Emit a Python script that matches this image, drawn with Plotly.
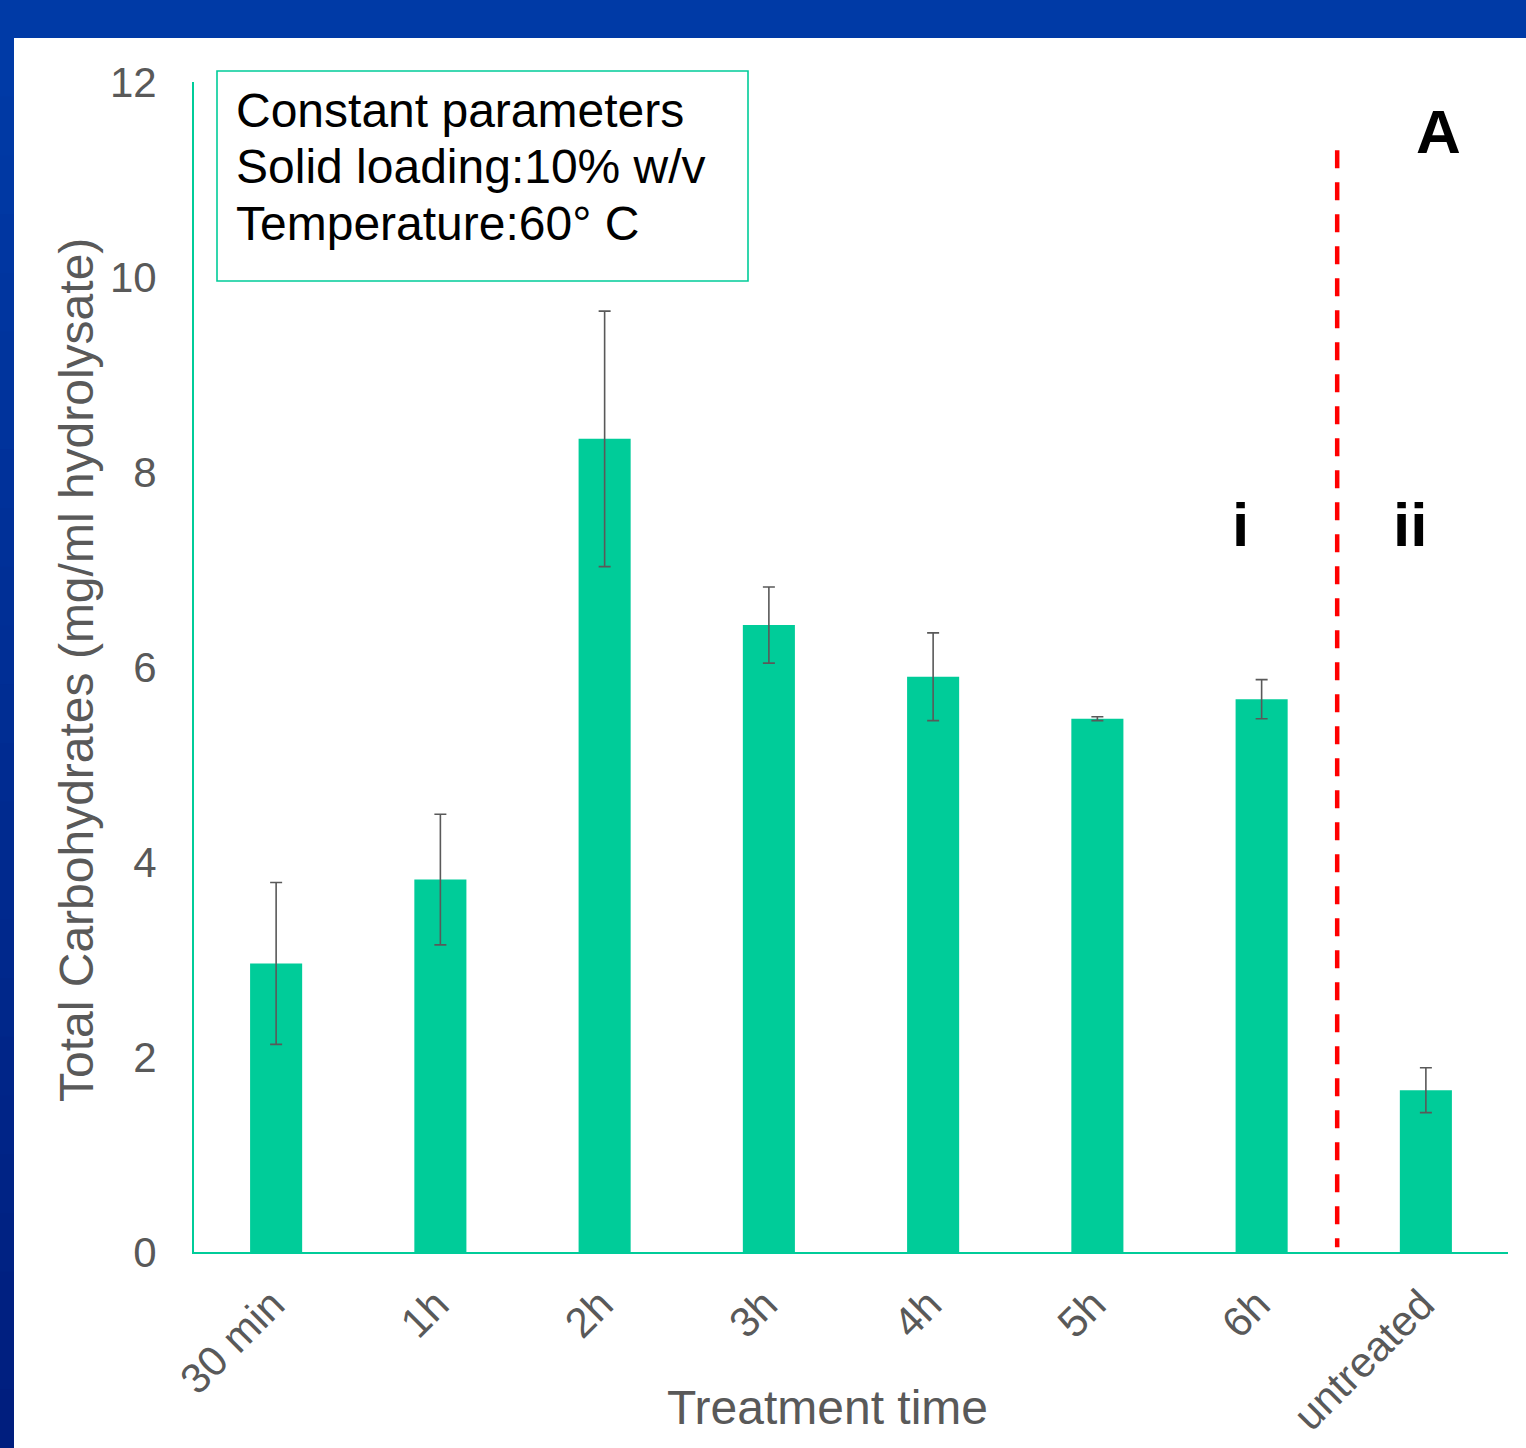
import plotly.graph_objects as go

categories = ["30 min", "1h", "2h", "3h", "4h", "5h", "6h", "untreated"]
carbs = [2.96, 3.82, 8.34, 6.43, 5.90, 5.47, 5.67, 1.66]
carbs_err = [0.83, 0.67, 1.31, 0.39, 0.45, 0.02, 0.20, 0.23]
yticks = [0, 2, 4, 6, 8, 10, 12]

W, H = 1526, 1448
L, R, T, B = 194, 1508, 82, 1252
FONT = "Liberation Sans, Arial, sans-serif"
TEAL = "#00CC99"
GREY = "#595959"


def px(x):
    return (x - L) / (R - L)


def py(y):
    return (B - y) / (B - T)


fig = go.Figure()
fig.add_trace(go.Bar(
    x=categories, y=carbs,
    marker=dict(color=TEAL, line=dict(width=0)),
    error_y=dict(type="data", array=carbs_err, visible=True,
                 color=GREY, thickness=1.6, width=6),
    showlegend=False,
))

shapes = []
# white canvas over the blue frame
shapes.append(dict(type="rect", xref="paper", yref="paper",
                   x0=px(14), x1=px(W + 5), y0=py(38), y1=py(H + 5),
                   fillcolor="white", line=dict(width=0), layer="below"))
# left strip gradient
n = 24
c0 = (0, 58, 166)
c1 = (0, 30, 126)
for i in range(n):
    t = i / (n - 1)
    col = tuple(round(c0[k] + (c1[k] - c0[k]) * t) for k in range(3))
    y0 = 38 + (H - 38) * i / n
    y1 = 38 + (H - 38) * (i + 1) / n + 1
    shapes.append(dict(type="rect", xref="paper", yref="paper",
                       x0=px(-5), x1=px(14), y0=py(y0), y1=py(y1),
                       fillcolor="rgb(%d,%d,%d)" % col, line=dict(width=0), layer="below"))
# info box
shapes.append(dict(type="rect", xref="paper", yref="paper",
                   x0=px(217), x1=px(748), y0=py(71), y1=py(281),
                   fillcolor="white", line=dict(color=TEAL, width=1.6), layer="above"))
# separator dashed line
shapes.append(dict(type="line", xref="x", yref="y",
                   x0=6.46, x1=6.46, y0=11.3, y1=0.05,
                   line=dict(color="#FF0000", width=4.5, dash="18px,14px"), layer="above"))

annotations = []
box_lines = ["Constant parameters", "Solid loading:10% w/v", "Temperature:60° C"]
baselines = [127, 183, 240]
for txt, bl in zip(box_lines, baselines):
    annotations.append(dict(text=txt, xref="paper", yref="paper",
                            x=px(234), y=py(bl + 12), xanchor="left", yanchor="bottom",
                            showarrow=False, font=dict(family=FONT, size=48, color="black")))
annotations.append(dict(text="<b>A</b>", xref="paper", yref="paper",
                        x=px(1438), y=py(132), xanchor="center", yanchor="middle",
                        showarrow=False, font=dict(family=FONT, size=62, color="black")))
annotations.append(dict(text="<b>i</b>", xref="paper", yref="paper",
                        x=px(1240), y=py(524), xanchor="center", yanchor="middle",
                        showarrow=False, font=dict(family=FONT, size=62, color="black")))
annotations.append(dict(text="<b>ii</b>", xref="paper", yref="paper",
                        x=px(1410), y=py(524), xanchor="center", yanchor="middle",
                        showarrow=False, font=dict(family=FONT, size=62, color="black")))
annotations.append(dict(text="Treatment time", xref="paper", yref="paper",
                        x=px(827), y=py(1407), xanchor="center", yanchor="middle",
                        showarrow=False, font=dict(family=FONT, size=48, color=GREY)))
annotations.append(dict(text="Total Carbohydrates (mg/ml hydrolysate)", xref="paper", yref="paper",
                        x=px(76), y=py(670), xanchor="center", yanchor="middle", textangle=-90,
                        showarrow=False, font=dict(family=FONT, size=48, color=GREY)))

fig.update_layout(
    width=W, height=H,
    margin=dict(l=L, r=W - R, t=T, b=H - B, pad=0),
    paper_bgcolor="rgb(0,58,166)",
    plot_bgcolor="white",
    bargap=0.683,
    shapes=shapes,
    annotations=annotations,
    font=dict(family=FONT),
)
fig.update_xaxes(
    type="category", showline=True, linecolor=TEAL, linewidth=2,
    showgrid=False, zeroline=False, ticks="", tickangle=-45,
    tickfont=dict(family=FONT, size=42, color=GREY), ticklabelstandoff=9,
    ticklabelshift=-4,
    automargin=False,
)
fig.update_yaxes(
    range=[0, 12], tickvals=yticks, showline=True, linecolor=TEAL, linewidth=2,
    showgrid=False, zeroline=False, ticks="",
    tickfont=dict(family=FONT, size=42, color=GREY), ticklabelstandoff=27,
    automargin=False,
)

fig.write_html("out.html")
